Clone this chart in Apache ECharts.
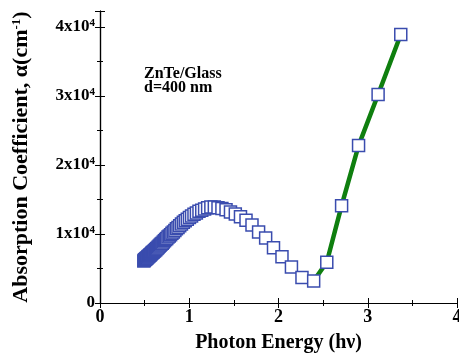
<!DOCTYPE html>
<html>
<head>
<meta charset="utf-8">
<script src="https://cdn.jsdelivr.net/npm/echarts@6/dist/echarts.min.js"></script>
<style>
html,body{margin:0;padding:0;background:#fff;}
#c{width:459px;height:353px;}
</style>
</head>
<body>
<div id="c"></div>
<script>
// Photon energy (eV) of each measured point, increasing
var energy = [0.491, 0.496, 0.502, 0.509, 0.515, 0.521, 0.528, 0.535, 0.542, 0.549,
  0.557, 0.564, 0.572, 0.580, 0.588, 0.597, 0.605, 0.614, 0.624, 0.633,
  0.643, 0.653, 0.664, 0.675, 0.686, 0.697, 0.709, 0.722, 0.735, 0.748,
  0.762, 0.776, 0.791, 0.806, 0.822, 0.839, 0.856, 0.874, 0.893, 0.913,
  0.934, 0.955, 0.978, 1.002, 1.026, 1.053, 1.080, 1.109, 1.140, 1.172,
  1.206, 1.242, 1.281, 1.322, 1.366, 1.412, 1.462, 1.516, 1.574, 1.636,
  1.703, 1.777, 1.856, 1.944, 2.039, 2.145, 2.263, 2.394, 2.541, 2.707,
  2.897, 3.116, 3.370];
// Absorption coefficient (cm^-1)
var alpha = [6100, 6200, 6250, 6350, 6400, 6500, 6550, 6650, 6750, 6800,
  6900, 7000, 7100, 7200, 7300, 7400, 7500, 7600, 7700, 7850,
  7950, 8100, 8250, 8400, 8550, 8650, 8850, 9000, 9200, 9350,
  9550, 9700, 9900, 10100, 10300, 10500, 10750, 10950, 11200, 11450,
  11700, 11900, 12150, 12400, 12600, 12850, 13050, 13300, 13450, 13600,
  13800, 13900, 13900, 13800, 13700, 13500, 13200, 12900, 12500, 12000,
  11300, 10300, 9400, 8000, 6700, 5200, 3700, 3200, 5900, 14100,
  22800, 30200, 38900];
// points joined by the green band-edge line
var edgeEnergy = [2.394, 2.541, 2.707, 2.897, 3.116, 3.370];
var edgeAlpha = [3200, 5900, 14100, 22800, 30200, 38900];
var xTicks = [0, 1, 2, 3, 4];
var yTickMantissa = [0, 1, 2, 3, 4];
var annotation = ['ZnTe/Glass', 'd=400 nm'];

var serif = '"Liberation Serif","DejaVu Serif",serif';
var scatterData = energy.map(function (e, i) { return [e, alpha[i]]; });
var lineData = edgeEnergy.map(function (e, i) { return [e, edgeAlpha[i]]; });

var chart = echarts.init(document.getElementById('c'));
var tickIn = {show: true, inside: true, length: 5, lineStyle: {color: '#000', width: 1}};
var minorIn = {show: true, splitNumber: 2, length: 3, lineStyle: {color: '#000', width: 1}};
var axisLineBlack = {show: true, lineStyle: {color: '#000', width: 1.2}};

chart.setOption({
  animation: false,
  backgroundColor: '#fff',
  grid: {left: 100, right: 2, top: 11, bottom: 50, outerBoundsMode: 'none', containLabel: false},
  xAxis: [{
    type: 'value', min: 0, max: 4, interval: 1,
    axisLine: axisLineBlack, axisTick: tickIn, minorTick: minorIn,
    splitLine: {show: false},
    axisLabel: {color: '#000', fontFamily: serif, fontWeight: 'bold', fontSize: 18, margin: 5,
      formatter: function (v) { return xTicks.indexOf(v) >= 0 ? String(v) : ''; }},
    name: 'Photon Energy (h\u03bd)', nameLocation: 'middle', nameGap: 30,
    nameTextStyle: {color: '#000', fontFamily: serif, fontWeight: 'bold', fontSize: 20}
  }, {
    type: 'value', position: 'top', min: 0, max: 4, interval: 1,
    axisLine: axisLineBlack, axisTick: tickIn, minorTick: minorIn,
    splitLine: {show: false}, axisLabel: {show: false}
  }],
  yAxis: [{
    type: 'value', min: 0, max: 42300, interval: 10000,
    axisLine: axisLineBlack, axisTick: tickIn, minorTick: minorIn,
    splitLine: {show: false},
    axisLabel: {color: '#000', margin: 5,
      formatter: function (v) {
        var m = v / 10000;
        if (yTickMantissa.indexOf(m) < 0) return '';
        return m === 0 ? '{b|0}' : '{b|' + m + 'x10}{s|4}';
      },
      rich: {
        b: {fontFamily: serif, fontWeight: 'bold', fontSize: 17, color: '#000'},
        s: {fontFamily: serif, fontWeight: 'bold', fontSize: 11, color: '#000', padding: [0, 0, 8, 0]}
      }
    },
    name: '{b|Absorption Coefficient, \u03b1(cm}{s|-1}{b|)}', nameLocation: 'middle', nameGap: 67,
    nameTextStyle: {
      rich: {
        b: {fontFamily: serif, fontWeight: 'bold', fontSize: 22, color: '#000'},
        s: {fontFamily: serif, fontWeight: 'bold', fontSize: 13, color: '#000', padding: [0, 0, 10, 0]}
      }
    }
  }, {
    type: 'value', position: 'right', min: 0, max: 42300, interval: 10000,
    axisLine: axisLineBlack, axisTick: tickIn, minorTick: minorIn,
    splitLine: {show: false}, axisLabel: {show: false}
  }],
  graphic: [{
    type: 'text', left: 144, top: 66,
    style: {text: annotation[0], font: 'bold 16px ' + serif, fill: '#000'}
  }, {
    type: 'text', left: 144, top: 80,
    style: {text: annotation[1], font: 'bold 16px ' + serif, fill: '#000'}
  }],
  series: [{
    type: 'line', data: lineData, showSymbol: false, z: 2,
    lineStyle: {color: '#0f7f0f', width: 4.5}
  }, {
    type: 'scatter', data: scatterData, symbol: 'rect', symbolSize: 12, z: 3,
    itemStyle: {color: '#ffffff', borderColor: '#3a4cae', borderWidth: 1.5, opacity: 1}
  }]
});
</script>
</body>
</html>
